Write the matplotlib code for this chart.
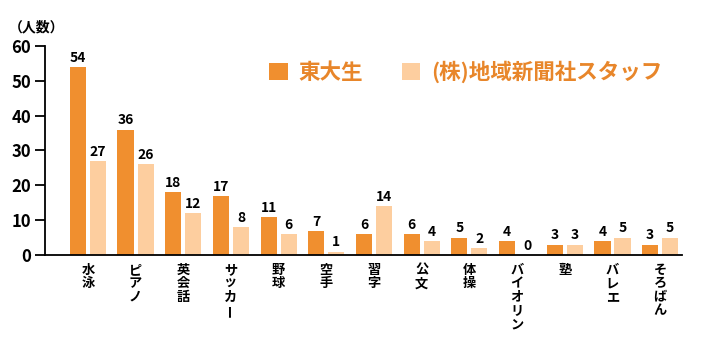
import numpy as np
import matplotlib.pyplot as plt

plt.rcParams['font.family'] = ['Noto Sans CJK JP', 'DejaVu Sans']

categories = ['水泳', 'ピアノ', '英会話', 'サッカー', '野球', '空手', '習字', '公文',
              '体操', 'バイオリン', '塾', 'バレエ', 'そろばん']
todai = [54, 36, 18, 17, 11, 7, 6, 6, 5, 4, 3, 4, 3]
staff = [27, 26, 12, 8, 6, 1, 14, 4, 2, 0, 3, 5, 5]
series_names = ['東大生', '(株)地域新聞社スタッフ']
y_ticks = [0, 10, 20, 30, 40, 50, 60]

c_dark = '#F08F2F'
c_light = '#FDCE9F'
c_text = '#E8862A'

fig = plt.figure(figsize=(7.1, 3.38), dpi=100)
ax = fig.add_axes([0.0634, 0.2456, 0.8972, 0.6184])

x = np.arange(len(categories))
w = 0.34
b1 = ax.bar(x - 0.21, todai, w, color=c_dark, label=series_names[0])
b2 = ax.bar(x + 0.21, staff, w, color=c_light, label=series_names[1])

for rect, v in list(zip(b1, todai)) + list(zip(b2, staff)):
    ax.text(rect.get_x() + rect.get_width() / 2, v + 0.6, str(v),
            ha='center', va='bottom', fontsize=10, fontweight='bold')

ax.set_xlim(-0.9, 12.46)
ax.set_ylim(0, 60)
ax.set_yticks(y_ticks)
ax.tick_params(axis='y', length=7, width=1.3, labelsize=12, pad=3)
for t in ax.get_yticklabels():
    t.set_fontweight('bold')
ax.set_xticks([])

# vertical (tategaki) category labels, one character per line
for xi, label in zip(x, categories):
    for j, ch in enumerate(label):
        ax.annotate(ch, xy=(xi, 0), xycoords=('data', 'axes fraction'),
                    xytext=(0, -5.5 - j * 9.8), textcoords='offset points',
                    ha='center', va='top', fontsize=9.5, fontweight='bold',
                    rotation=90 if ch == 'ー' else 0, annotation_clip=False)

for s in ['top', 'right']:
    ax.spines[s].set_visible(False)
ax.spines['left'].set_linewidth(1.3)
ax.spines['bottom'].set_linewidth(1.3)

fig.text(0.012, 0.92, '（人数）', fontsize=10, fontweight='bold', va='center')

leg = fig.legend(loc='center', bbox_to_anchor=(0.656, 0.787), ncol=2, frameon=False,
                 fontsize=15.5, handlelength=0.85, handleheight=0.85, columnspacing=1.8,
                 handletextpad=0.5)
for t in leg.get_texts():
    t.set_color(c_text)
    t.set_fontweight('bold')

fig.savefig('out.png', dpi=100)
